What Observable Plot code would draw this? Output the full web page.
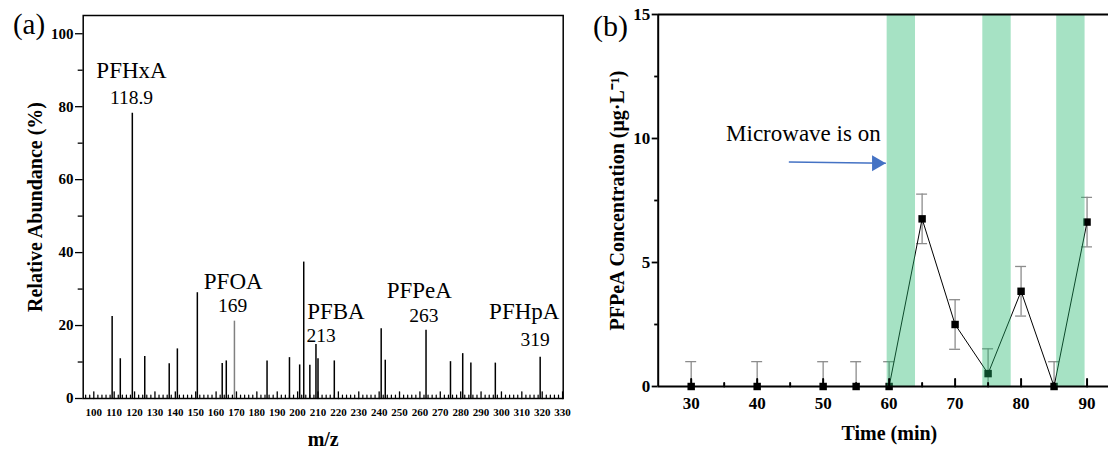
<!DOCTYPE html>
<html><head><meta charset="utf-8">
<script src="https://cdn.jsdelivr.net/npm/d3@7"></script>
<script src="https://cdn.jsdelivr.net/npm/@observablehq/plot@0.6"></script>
<style>
body{margin:0;background:#fff;}
#wrap{position:relative;width:1108px;height:450px;overflow:hidden;background:#fff;}
#wrap svg{position:absolute;top:0;font-family:"Liberation Serif","Times New Roman",serif;}
</style></head><body><div id="wrap"></div>
<script>
// ---------- Panel (a) data: mass spectrum ----------
const mz = [109,113,118.9,125,137,141,150.8,163,165,169,185,196,201,203,206,209,210,218,241,243,263,275,281,285,297,319];
const abundance = [22.5,10.9,78.2,11.5,9.5,13.6,29.0,9.6,10.3,21.2,10.3,11.2,9.2,37.4,9.1,14.8,10.9,10.3,19.1,10.5,18.7,10.1,12.3,9.7,9.7,11.3];
const mzTicks = [100,110,120,130,140,150,160,170,180,190,200,210,220,230,240,250,260,270,280,290,300,310,320,330];
const abundanceTicks = [0,20,40,60,80,100];
const labelNames = ["PFHxA","PFOA","PFBA","PFPeA","PFHpA"];
const nameX = [118.5,168.4,218.8,259.7,311.2];
const nameY = [89.8,32.0,23.7,29.7,23.7];
const labelMz = ["118.9","169","213","263","319"];
const mzLabelX = [118.5,168.1,211.5,262.0,316.5];
const mzLabelY = [82.4,25.5,17.3,22.8,16.1];

// ---------- Panel (b) data: PFPeA concentration ----------
const time = [30,40,50,55,60,65,70,75,80,85,90];
const conc = [0,0,0,0,0,6.76,2.5,0.52,3.84,0,6.63];
const concErr = [1,1,1,1,1,1,1,1,1,1,1];
const bandStart = [59.7,74.2,85.4];
const bandEnd = [64.0,78.5,89.7];
const timeTicks = [30,40,50,60,70,80,90];
const concTicks = [0,5,10,15];
const noteText = "Microwave is on";
const noteX = 47.0, noteY = 10.2;
const arrowFrom = [44.8, 9.05];
const arrowTo = [59.5, 9.0];

const SERIF = "Liberation Serif";
const BLUE = "#4472C4";
const tickShape = {draw(ctx, l){ ctx.moveTo(0,0); ctx.lineTo(0,-l); }};

const peaks = mz.map((m,i)=>({mz:m, ab:abundance[i]}));
const names = labelNames.map((t,i)=>({t, x:nameX[i], y:nameY[i]}));
const mzl = labelMz.map((t,i)=>({t, x:mzLabelX[i], y:mzLabelY[i]}));
const minorA = d3.range(96, 331, 2).filter(v => v % 10 !== 0);
const T = {fontFamily: SERIF, fill: "black"};

const plotA = Plot.plot({
  width: 590, height: 450,
  marginLeft: 82.7, marginRight: 27.3, marginTop: 15, marginBottom: 52,
  x: {domain: [94.8, 330.3]},
  y: {domain: [0, 105]},
  style: {background: "white", color: "black", overflow: "visible"},
  marks: [
    Plot.ruleX(peaks, {x: "mz", y1: 0, y2: "ab", stroke: d => d.mz === 169 ? "#808080" : "black", strokeWidth: 1.5}),
    Plot.vector(mzTicks, {x: d => d, y: 0, length: 6.7, anchor: "start", shape: tickShape, stroke: "black", strokeWidth: 1.3}),
    Plot.vector(minorA, {x: d => d, y: 0, length: 3.4, anchor: "start", shape: tickShape, stroke: "black", strokeWidth: 1.2}),
    Plot.axisX(mzTicks, {tickSize: 0, tickPadding: 9.8, fontSize: 11, fontWeight: "bold", fontFamily: SERIF, label: null}),
    Plot.axisY(abundanceTicks, {tickSize: 7.7, tickPadding: 2, fontSize: 15, fontWeight: "bold", fontFamily: SERIF, label: null, strokeWidth: 1.3}),
    Plot.axisY([10,30,50,70,90], {tickSize: 5, tickFormat: () => "", label: null, strokeWidth: 1.3}),
    Plot.frame({stroke: "black", strokeWidth: 1.5}),
    Plot.text(names, {x: "x", y: "y", text: "t", fontSize: 23, ...T}),
    Plot.text(mzl, {x: "x", y: "y", text: "t", fontSize: 19.5, ...T}),
    Plot.text(["Relative Abundance (%)"], {frameAnchor: "left", textAnchor: "middle", lineAnchor: "middle", dx: -47.7, rotate: -90, fontSize: 20, fontWeight: "bold", ...T}),
    Plot.text(["m/z"], {frameAnchor: "bottom", textAnchor: "middle", lineAnchor: "middle", dy: 41, fontSize: 20, fontWeight: "bold", ...T}),
    Plot.text(["(a)"], {frameAnchor: "top-left", textAnchor: "middle", lineAnchor: "middle", dx: -54.2, dy: 9.5, fontSize: 29, ...T})
  ]
});

const pts = time.map((t,i)=>({t, c:conc[i], lo:conc[i]-concErr[i], hi:conc[i]+concErr[i]}));
const bands = bandStart.map((s,i)=>({s, e:bandEnd[i]}));
const minorB = [35,45,55,65,75,85];

const plotB = Plot.plot({
  width: 518, height: 450,
  marginLeft: 67.7, marginRight: 0, marginTop: 14, marginBottom: 64,
  x: {domain: [25, 93.25]},
  y: {domain: [0, 15]},
  style: {background: "white", color: "black", overflow: "visible"},
  marks: [
    Plot.ruleX(pts, {x: "t", y1: "lo", y2: "hi", stroke: "#8c8c8c", strokeWidth: 1.3, clip: true}),
    Plot.ruleY(pts, {x1: d => d.t - 0.83, x2: d => d.t + 0.83, y: "hi", stroke: "#8c8c8c", strokeWidth: 1.3, clip: true}),
    Plot.ruleY(pts, {x1: d => d.t - 0.83, x2: d => d.t + 0.83, y: "lo", stroke: "#8c8c8c", strokeWidth: 1.3, clip: true}),
    Plot.line(pts, {x: "t", y: "c", stroke: "black", strokeWidth: 1}),
    Plot.dot(pts, {x: "t", y: "c", symbol: "square", r: 4.2, fill: "black", stroke: "none"}),
    Plot.rect(bands, {x1: "s", x2: "e", fill: "rgb(32,182,107)", fillOpacity: 0.4}),
    Plot.link([0], {x1: arrowFrom[0], y1: arrowFrom[1], x2: arrowTo[0], y2: arrowTo[1], stroke: BLUE, strokeWidth: 1.6}),
    Plot.dot([0], {x: arrowTo[0], y: arrowTo[1], symbol: "triangle", r: 5.9, rotate: 90, dx: -9.2, fill: BLUE, stroke: "none"}),
    Plot.text([noteText], {x: noteX, y: noteY, fontSize: 23, ...T}),
    Plot.vector(timeTicks, {x: d => d, y: 0, length: 7.5, anchor: "start", shape: tickShape, stroke: "black", strokeWidth: 2}),
    Plot.vector(minorB, {x: d => d, y: 0, length: 3.5, anchor: "start", shape: tickShape, stroke: "black", strokeWidth: 2}),
    Plot.axisX(timeTicks, {tickSize: 0, tickPadding: 10, fontSize: 17, fontWeight: "bold", fontFamily: SERIF, label: null}),
    Plot.axisY(concTicks, {tickSize: 6, tickPadding: 2, fontSize: 17, fontWeight: "bold", fontFamily: SERIF, label: null, strokeWidth: 1.8}),
    Plot.axisY([2.5,7.5,12.5], {tickSize: 3.5, tickFormat: () => "", label: null, strokeWidth: 1.8}),
    Plot.ruleY([0], {stroke: "black", strokeWidth: 2}),
    Plot.ruleY([15], {stroke: "black", strokeWidth: 2}),
    Plot.ruleX([25], {stroke: "black", strokeWidth: 2}),
    Plot.text(["PFPeA Concentration (μg·L⁻¹)"], {frameAnchor: "left", textAnchor: "middle", lineAnchor: "middle", dx: -41, rotate: -90, fontSize: 20, fontWeight: "bold", ...T}),
    Plot.text(["Time (min)"], {frameAnchor: "bottom", textAnchor: "middle", lineAnchor: "middle", dx: 6, dy: 47, fontSize: 20, fontWeight: "bold", ...T}),
    Plot.text(["(b)"], {frameAnchor: "top-left", textAnchor: "middle", lineAnchor: "middle", dx: -47.7, dy: 12, fontSize: 30, ...T})
  ]
});

plotA.style.left = "0px";
plotB.style.left = "590px";
document.getElementById("wrap").append(plotA, plotB);
</script>
</body></html>
